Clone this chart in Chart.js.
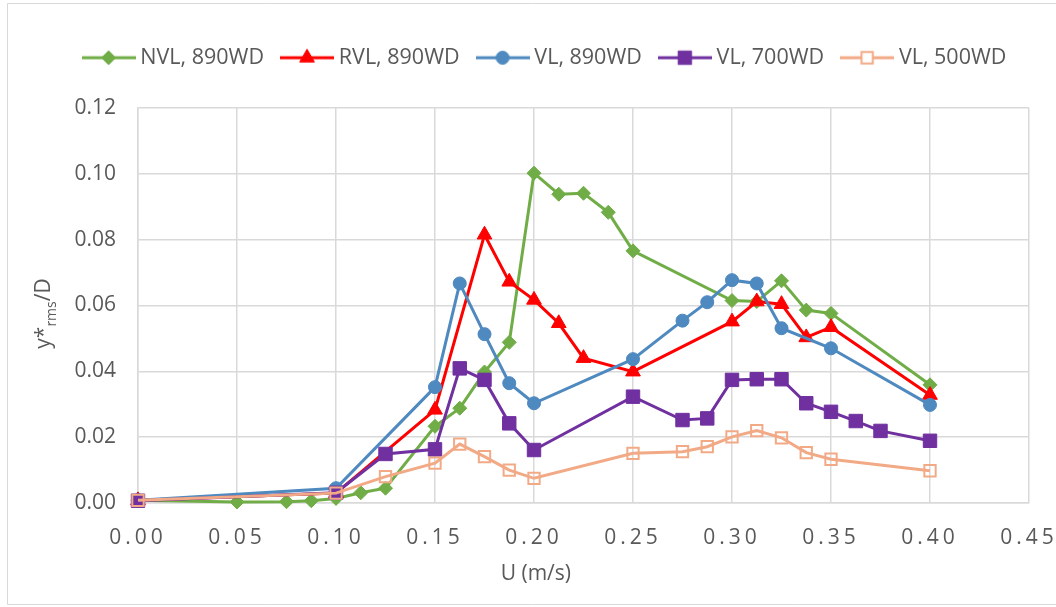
<!DOCTYPE html>
<html>
<head>
<meta charset="utf-8">
<script src="https://cdn.jsdelivr.net/npm/chart.js@4.4.1/dist/chart.umd.min.js"></script>
<style>
  html, body { margin: 0; padding: 0; background: #ffffff; }
  canvas { display: block; }
</style>
</head>
<body>
<canvas id="chart" width="1056" height="607"></canvas>
<script>
// ---- data: flow speed U (m/s) against y*rms/D for each case ----
const seriesNames = ['NVL, 890WD', 'RVL, 890WD', 'VL, 890WD', 'VL, 700WD', 'VL, 500WD'];

const nvl890U = [0, 0.05, 0.075, 0.0875, 0.1, 0.1125, 0.125, 0.15, 0.1625, 0.175, 0.1875, 0.2, 0.2125, 0.225, 0.2375, 0.25, 0.3, 0.3125, 0.325, 0.3375, 0.35, 0.4];
const nvl890Y = [0.0008, 0.0003, 0.0004, 0.0007, 0.0014, 0.0031, 0.0045, 0.0233, 0.0288, 0.0398, 0.0488, 0.1002, 0.0938, 0.0941, 0.0883, 0.0766, 0.0615, 0.0612, 0.0675, 0.0586, 0.0576, 0.0359];

const rvl890U = [0, 0.1, 0.15, 0.175, 0.1875, 0.2, 0.2125, 0.225, 0.25, 0.3, 0.3125, 0.325, 0.3375, 0.35, 0.4];
const rvl890Y = [0.0008, 0.003, 0.0283, 0.0815, 0.0672, 0.0617, 0.0546, 0.044, 0.0399, 0.0551, 0.0612, 0.0604, 0.0503, 0.0534, 0.0328];

const vl890U = [0, 0.1, 0.15, 0.1625, 0.175, 0.1875, 0.2, 0.25, 0.275, 0.2875, 0.3, 0.3125, 0.325, 0.35, 0.4];
const vl890Y = [0.0008, 0.0045, 0.0352, 0.0667, 0.0513, 0.0364, 0.0303, 0.0437, 0.0554, 0.061, 0.0677, 0.0667, 0.0531, 0.047, 0.0298];

const vl700U = [0, 0.1, 0.125, 0.15, 0.1625, 0.175, 0.1875, 0.2, 0.25, 0.275, 0.2875, 0.3, 0.3125, 0.325, 0.3375, 0.35, 0.3625, 0.375, 0.4];
const vl700Y = [0.0007, 0.0031, 0.0149, 0.0163, 0.0409, 0.0374, 0.0242, 0.0161, 0.0323, 0.0252, 0.0257, 0.0374, 0.0376, 0.0376, 0.0303, 0.0277, 0.0249, 0.0219, 0.0189];

const vl500U = [0, 0.1, 0.125, 0.15, 0.1625, 0.175, 0.1875, 0.2, 0.25, 0.275, 0.2875, 0.3, 0.3125, 0.325, 0.3375, 0.35, 0.4];
const vl500Y = [0.0008, 0.003, 0.008, 0.0121, 0.0179, 0.0141, 0.01, 0.0075, 0.0151, 0.0156, 0.0171, 0.0201, 0.022, 0.0198, 0.0153, 0.0133, 0.0098];

const xTickLabels = ['0.00', '0.05', '0.10', '0.15', '0.20', '0.25', '0.30', '0.35', '0.40', '0.45'];
const yTickLabels = ['0.00', '0.02', '0.04', '0.06', '0.08', '0.10', '0.12'];
const xTitle = 'U (m/s)';

// ---- styling ----
const FONT = "'Open Sans', 'Noto Sans', sans-serif";
const TEXT = '#595959';
const GRID = '#d9d9d9';

const looks = [
  { color: '#70AD47', shape: 'rectRot',  radius: 7,   fill: '#70AD47',       bw: 1 },
  { color: '#FF0000', shape: 'triangle', radius: 8.5, fill: '#FF0000',       bw: 1 },
  { color: '#4E89C0', shape: 'circle',   radius: 6.5, fill: '#4E89C0',       bw: 1 },
  { color: '#7030A0', shape: 'rect',     radius: 9.5, fill: '#7030A0',       bw: 1 },
  { color: '#F2AA86', shape: 'rect',     radius: 8,   fill: 'rgba(0,0,0,0)', bw: 2 }
];

const seriesU = [nvl890U, rvl890U, vl890U, vl700U, vl500U];
const seriesY = [nvl890Y, rvl890Y, vl890Y, vl700Y, vl500Y];

function toPoints(us, ys) { return us.map((u, i) => ({ x: u, y: ys[i] })); }

// marker geometry used by the legend icons
function markerPath(ctx, shape, x, y, r) {
  ctx.beginPath();
  if (shape === 'circle') {
    ctx.arc(x, y, r, 0, Math.PI * 2);
  } else if (shape === 'rect') {
    const s = r * Math.SQRT1_2;
    ctx.rect(x - s, y - s, 2 * s, 2 * s);
  } else if (shape === 'rectRot') {
    ctx.moveTo(x - r, y); ctx.lineTo(x, y - r); ctx.lineTo(x + r, y); ctx.lineTo(x, y + r);
    ctx.closePath();
  } else if (shape === 'triangle') {
    let a = 0;
    ctx.moveTo(x + Math.sin(a) * r, y - Math.cos(a) * r);
    a += Math.PI * 2 / 3;
    ctx.lineTo(x + Math.sin(a) * r, y - Math.cos(a) * r);
    a += Math.PI * 2 / 3;
    ctx.lineTo(x + Math.sin(a) * r, y - Math.cos(a) * r);
    ctx.closePath();
  }
}

function legendIcon(look) {
  const c = document.createElement('canvas');
  c.width = 54; c.height = 22;
  const g = c.getContext('2d');
  g.strokeStyle = look.color; g.lineWidth = 3; g.lineCap = 'butt';
  g.beginPath(); g.moveTo(0, 11); g.lineTo(54, 11); g.stroke();
  markerPath(g, look.shape, 27, 11, look.radius);
  g.fillStyle = look.fill === 'rgba(0,0,0,0)' ? '#ffffff' : look.fill;
  g.fill();
  g.lineWidth = look.bw; g.strokeStyle = look.color; g.stroke();
  return c;
}
const icons = looks.map(legendIcon);

const datasets = seriesNames.map((name, i) => ({
  label: name,
  data: toPoints(seriesU[i], seriesY[i]),
  showLine: true,
  tension: 0,
  borderColor: looks[i].color,
  borderWidth: 3,
  pointStyle: looks[i].shape,
  pointRadius: looks[i].radius,
  pointHoverRadius: looks[i].radius,
  pointBackgroundColor: looks[i].fill,
  pointBorderColor: looks[i].color,
  pointBorderWidth: looks[i].bw,
  clip: false,
  order: seriesNames.length - i   // later series sit on top
}));

// frame, axis titles and spaced x tick labels
const decorations = {
  id: 'decorations',
  beforeLayout(chart) {
    const lg = chart.legend;
    if (lg && !lg._fixedHeight) {
      const fit = lg.fit;
      lg.fit = function () { fit.call(this); this.height = 83; };
      lg._fixedHeight = true;
    }
  },
  beforeDraw(chart) {
    const ctx = chart.ctx;
    ctx.save();
    ctx.fillStyle = '#ffffff';
    ctx.fillRect(0, 0, chart.width, chart.height);
    ctx.strokeStyle = GRID; ctx.lineWidth = 1;
    ctx.beginPath();
    ctx.moveTo(1100, 3.5); ctx.lineTo(7.5, 3.5); ctx.lineTo(7.5, 604.5); ctx.lineTo(1100, 604.5);
    ctx.stroke();
    ctx.restore();
    const xs = chart.scales.x;
    if (xs && !xs._spaced) {
      const draw = xs.drawLabels;
      xs.drawLabels = function (area) {
        this.ctx.save();
        this.ctx.letterSpacing = '4px';
        draw.call(this, area);
        this.ctx.restore();
      };
      xs._spaced = true;
    }
  },
  afterDraw(chart) {
    const ctx = chart.ctx;
    const area = chart.chartArea;
    ctx.save();
    ctx.fillStyle = TEXT;
    // x axis title
    ctx.font = '21px ' + FONT;
    ctx.textAlign = 'center';
    ctx.textBaseline = 'middle';
    ctx.fillText(xTitle, area.left + area.width * 0.4465, 574);
    // y axis title with subscript
    const main = '21px ' + FONT, sub = '14px ' + FONT;
    ctx.font = main; const w1 = ctx.measureText('y*').width; const w3 = ctx.measureText('/D').width;
    ctx.font = sub;  const w2 = ctx.measureText('rms').width;
    const total = w1 + w2 + w3;
    ctx.translate(50, (area.top + area.bottom) / 2 + 8);
    ctx.rotate(-Math.PI / 2);
    ctx.textAlign = 'left';
    ctx.textBaseline = 'alphabetic';
    let x0 = -total / 2;
    ctx.font = main; ctx.fillText('y*', x0, 0); x0 += w1;
    ctx.font = sub;  ctx.fillText('rms', x0, 6); x0 += w2;
    ctx.font = main; ctx.fillText('/D', x0, 0);
    ctx.restore();
  }
};

Chart.defaults.font.family = FONT;
Chart.defaults.color = TEXT;

new Chart(document.getElementById('chart'), {
  type: 'scatter',
  data: { datasets },
  options: {
    responsive: false,
    animation: false,
    events: [],
    layout: { padding: { top: 25, left: 38, right: 0, bottom: 0 } },
    plugins: {
      tooltip: { enabled: false },
      legend: {
        position: 'top',
        align: 'center',
        labels: {
          usePointStyle: true,
          pointStyleWidth: 42,
          padding: 22,
          color: TEXT,
          font: { size: 21.5, family: FONT },
          generateLabels(chart) {
            return chart.data.datasets.map((ds, i) => ({
              text: ds.label,
              datasetIndex: i,
              pointStyle: icons[i],
              fillStyle: looks[i].color,
              strokeStyle: looks[i].color,
              lineWidth: 0,
              hidden: false,
              fontColor: TEXT
            }));
          }
        }
      }
    },
    scales: {
      x: {
        type: 'linear',
        min: 0, max: 0.45,
        afterFit(scale) { scale.height = 104; scale.paddingLeft = 0; scale.paddingRight = 27; },
        grid: { color: GRID, lineWidth: 1.5, drawTicks: false },
        border: { color: GRID, width: 1.5 },
        ticks: {
          stepSize: 0.05,
          padding: 22,
          color: TEXT,
          font: { size: 21, family: FONT },
          maxRotation: 0,
          autoSkip: false,
          callback(v) { const k = Math.round(v / 0.05); return xTickLabels[k]; }
        }
      },
      y: {
        type: 'linear',
        min: 0, max: 0.12,
        afterFit(scale) { scale.width = 100; scale.paddingTop = 0; scale.paddingBottom = 0; },
        grid: { color: GRID, lineWidth: 1.5, drawTicks: false },
        border: { color: GRID, width: 1.5 },
        ticks: {
          stepSize: 0.02,
          padding: 22,
          color: TEXT,
          font: { size: 21, family: FONT },
          callback(v) { const k = Math.round(v / 0.02); return yTickLabels[k]; }
        }
      }
    }
  },
  plugins: [decorations]
});
</script>
</body>
</html>
